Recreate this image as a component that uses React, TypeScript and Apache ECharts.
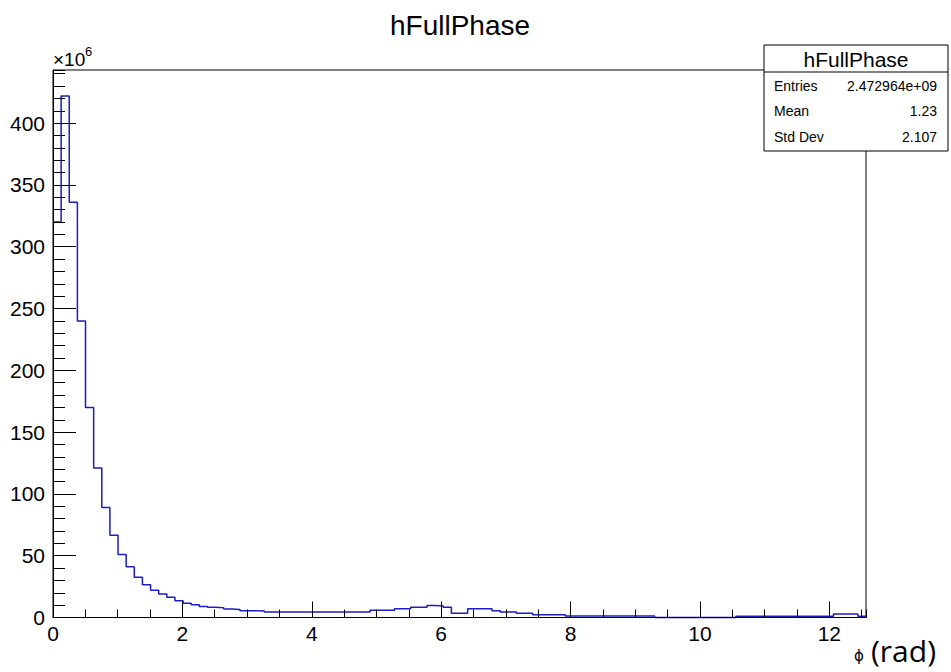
import React, { useEffect, useRef } from "react";
import * as echarts from "echarts";

// Histogram hFullPhase: 100 bins over [0, 4π], counts in units of 10^6
const X_MIN = 0;
const X_MAX = 4 * Math.PI;
const Y_MAX = 443;
const binCounts: number[] = [
  320, 422, 336, 240, 170, 121, 89, 66.5, 51, 41,
  32.5, 26.5, 22, 19, 16.3, 13.6, 11.5, 10.3, 9.0, 8.2,
  7.8, 6.8, 6.5, 5.5, 5.4, 5.3, 4.5, 4.4, 4.4, 4.4,
  4.4, 4.4, 4.4, 4.4, 4.4, 4.4, 4.4, 4.4, 4.4, 5.8,
  5.8, 5.8, 7.1, 7.1, 8.2, 8.2, 9.8, 9.3, 8.3, 3.4,
  3.4, 7.1, 7.1, 7.0, 5.5, 4.4, 4.4, 3.4, 3.4, 2.3,
  2.3, 2.3, 2.3, 1.2, 1.2, 1.2, 1.2, 1.2, 1.2, 1.2,
  1.2, 1.2, 1.2, 1.2, 0, 0, 0, 0, 0, 0,
  0, 0, 0, 0, 1.0, 1.0, 1.0, 1.0, 1.0, 1.0,
  1.0, 1.0, 1.0, 1.0, 1.0, 1.0, 2.8, 2.8, 2.8, 1.0,
];
const statsLabels = ["Entries", "Mean", "Std Dev"];
const statsValues = ["2.472964e+09", "1.23", "2.107"];
const histTitle = "hFullPhase";

const FONT = "'Liberation Sans', Arial, Helvetica, sans-serif";

export default function App() {
  const ref = useRef<HTMLDivElement>(null);
  useEffect(() => {
    if (!ref.current) return;
    const chart = echarts.init(ref.current, undefined, { renderer: "svg" });
    const binWidth = (X_MAX - X_MIN) / binCounts.length;
    const stepData: number[][] = binCounts.map((v, i) => [X_MIN + i * binWidth, v]);
    stepData.push([X_MAX, binCounts[binCounts.length - 1]]);

    const statsY0 = 45;
    const statsX0 = 764;
    const statsW = 184;
    const rowYs = [86, 111, 137];

    const graphics: any[] = [
      {
        type: "text",
        x: 460,
        y: 25,
        z: 100,
        style: { text: histTitle, font: `28px ${FONT}`, fill: "#000", align: "center", verticalAlign: "middle" },
      },
      {
        type: "text",
        x: 53,
        y: 50,
        z: 100,
        style: { text: "×10", font: `19px ${FONT}`, fill: "#000", align: "left", verticalAlign: "top" },
      },
      {
        type: "text",
        x: 85,
        y: 45,
        z: 100,
        style: { text: "6", font: `13px ${FONT}`, fill: "#000", align: "left", verticalAlign: "top" },
      },
      {
        type: "rect",
        z: 100,
        shape: { x: statsX0, y: statsY0, width: statsW, height: 106 },
        style: { fill: "#fff", stroke: "#000", lineWidth: 1 },
      },
      {
        type: "line",
        z: 101,
        shape: { x1: statsX0, y1: 72, x2: statsX0 + statsW, y2: 72 },
        style: { stroke: "#000", lineWidth: 1 },
      },
      {
        type: "text",
        x: statsX0 + statsW / 2,
        y: 59,
        z: 101,
        style: { text: histTitle, font: `21px ${FONT}`, fill: "#000", align: "center", verticalAlign: "middle" },
      },
      {
        type: "text",
        x: 854,
        y: 656,
        z: 100,
        style: { text: "ϕ", font: `15px 'DejaVu Sans', sans-serif`, fill: "#000", align: "left", verticalAlign: "middle" },
      },
      {
        type: "text",
        x: 871,
        y: 650,
        z: 100,
        style: { text: "(rad)", font: `30px 'Open Sans', sans-serif`, fill: "#000", align: "left", verticalAlign: "middle" },
      },
    ];
    statsLabels.forEach((lab, i) => {
      graphics.push({
        type: "text",
        x: statsX0 + 10,
        y: rowYs[i],
        z: 101,
        style: { text: lab, font: `14px ${FONT}`, fill: "#000", align: "left", verticalAlign: "middle" },
      });
      graphics.push({
        type: "text",
        x: statsX0 + statsW - 11,
        y: rowYs[i],
        z: 101,
        style: { text: statsValues[i], font: `14px ${FONT}`, fill: "#000", align: "right", verticalAlign: "middle" },
      });
    });

    const intLabel = (v: number) => (Math.abs(v - Math.round(v)) < 1e-9 ? String(Math.round(v)) : "");

    chart.setOption({
      animation: false,
      backgroundColor: "#fff",
      grid: {
        left: 53,
        right: 85,
        top: 70,
        bottom: 54.5,
        show: true,
        borderColor: "#000",
        borderWidth: 1,
        backgroundColor: "transparent",
      },
      xAxis: [
        {
          type: "value",
          position: "bottom",
          min: X_MIN,
          max: X_MAX,
          interval: 2,
          z: 10,
          axisLine: { show: true, lineStyle: { color: "#000", width: 1 } },
          axisTick: { show: true, inside: true, length: 16, lineStyle: { color: "#000", width: 1 } },
          minorTick: { show: false },
          splitLine: { show: false },
          axisLabel: {
            color: "#000",
            fontSize: 21,
            fontFamily: FONT,
            margin: 5,
            formatter: intLabel,
            showMaxLabel: false,
          },
        },
        {
          type: "value",
          position: "bottom",
          min: X_MIN,
          max: X_MAX,
          interval: 0.5,
          z: 10,
          axisLine: { show: false },
          axisTick: { show: true, inside: true, length: 8, lineStyle: { color: "#000", width: 1 } },
          splitLine: { show: false },
          axisLabel: { show: false },
        },
      ],
      yAxis: [
        {
          type: "value",
          position: "left",
          min: 0,
          max: Y_MAX,
          interval: 50,
          z: 10,
          axisLine: { show: true, lineStyle: { color: "#000", width: 1 } },
          axisTick: { show: true, inside: true, length: 23, lineStyle: { color: "#000", width: 1 } },
          splitLine: { show: false },
          axisLabel: {
            color: "#000",
            fontSize: 21,
            fontFamily: FONT,
            margin: 8,
            formatter: intLabel,
            showMaxLabel: false,
          },
        },
        {
          type: "value",
          position: "left",
          min: 0,
          max: Y_MAX,
          interval: 10,
          z: 10,
          axisLine: { show: false },
          axisTick: { show: true, inside: true, length: 12, lineStyle: { color: "#000", width: 1 } },
          splitLine: { show: false },
          axisLabel: { show: false },
        },
      ],
      series: [
        {
          type: "line",
          name: histTitle,
          xAxisIndex: 0,
          yAxisIndex: 0,
          step: "end",
          data: stepData,
          showSymbol: false,
          symbol: "none",
          clip: false,
          lineStyle: { color: "#1c1cc4", width: 1.5 },
          z: 2,
        },
      ],
      graphic: graphics,
    });
    return () => chart.dispose();
  }, []);
  return <div ref={ref} style={{ position: "fixed", left: 0, top: 0, width: 951, height: 672 }} />;
}
